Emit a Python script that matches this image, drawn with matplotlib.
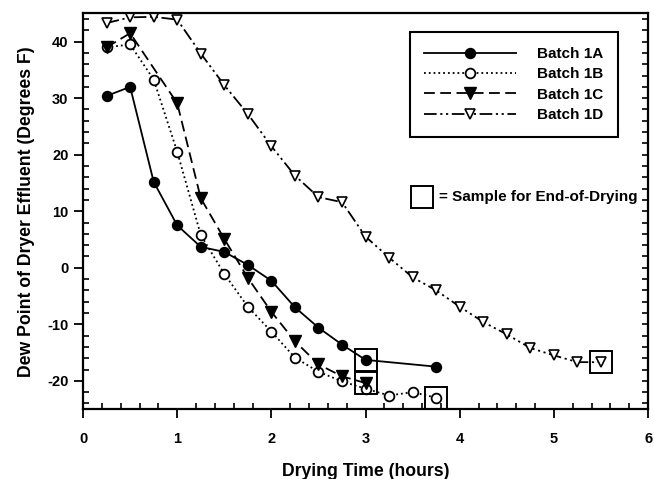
import matplotlib
matplotlib.use("Agg")
import matplotlib.pyplot as plt
from matplotlib.ticker import MultipleLocator, NullFormatter

plt.rcParams["font.family"] = ["Liberation Sans", "DejaVu Sans"]
plt.rcParams["font.weight"] = "bold"
plt.rcParams["axes.unicode_minus"] = False

# ---- data ---------------------------------------------------------------------
t_1a = [0.25, 0.5, 0.75, 1.0, 1.25, 1.5, 1.75, 2.0, 2.25, 2.5, 2.75, 3.0, 3.75]
dp_1a = [30.4, 32.0, 15.2, 7.5, 3.7, 2.8, 0.5, -2.3, -7.0, -10.6, -13.6, -16.3, -17.5]

t_1b = [0.25, 0.5, 0.75, 1.0, 1.25, 1.5, 1.75, 2.0, 2.25, 2.5, 2.75, 3.0, 3.25, 3.5, 3.75]
dp_1b = [39.0, 39.5, 33.3, 20.5, 5.8, -1.1, -6.9, -11.3, -15.9, -18.4, -20.1, -21.4, -22.6, -22.0, -23.0]

t_1c = [0.25, 0.5, 1.0, 1.25, 1.5, 1.75, 2.0, 2.25, 2.5, 2.75, 3.0]
dp_1c = [39.0, 41.5, 29.1, 12.3, 5.1, -1.8, -7.8, -13.0, -17.1, -19.2, -20.4]

t_1d = [0.25, 0.5, 0.75, 1.0, 1.25, 1.5, 1.75, 2.0, 2.25, 2.5, 2.75, 3.0, 3.25, 3.5,
        3.75, 4.0, 4.25, 4.5, 4.75, 5.0, 5.25, 5.5]
dp_1d = [43.3, 44.3, 44.4, 43.9, 37.9, 32.3, 27.2, 21.5, 16.3, 12.5, 11.6, 5.5, 1.8, -1.7,
         -4.0, -6.9, -9.6, -11.8, -14.2, -15.5, -16.7, -16.7]

# end-of-drying samples (boxed points)
t_end = [3.0, 3.0, 3.75, 5.5]
dp_end = [-16.3, -20.4, -23.0, -16.7]

fig = plt.figure(figsize=(6.54, 4.79), dpi=100)
ax = fig.add_axes([0.127, 0.146, 0.864, 0.826])

ax.plot(t_1a, dp_1a, "-", color="black", lw=1.3, marker="o", ms=7.2,
        mfc="black", mec="black", label="Batch 1A")
ax.plot(t_1b, dp_1b, ":", color="black", lw=1.3, marker="o", ms=7,
        mfc="white", mec="black", mew=1.3, label="Batch 1B")
ax.plot(t_1c, dp_1c, "--", color="black", lw=1.3, marker="v", ms=8,
        mfc="black", mec="black", dashes=(6, 3), label="Batch 1C")
ax.plot(t_1d, dp_1d, color="black", lw=1.3, marker="v", ms=7,
        mfc="white", mec="black", mew=1.2, dashes=(7, 2, 1.2, 2, 1.2, 2), label="Batch 1D")
ax.plot(t_end, dp_end, "s", ls="none", ms=16.5, mfc="none", mec="black", mew=1.4)

ax.set_xlim(0, 6)
ax.set_ylim(-25, 45)
ax.xaxis.set_major_locator(MultipleLocator(1))
ax.xaxis.set_minor_locator(MultipleLocator(0.2))
ax.set_yticks(range(-20, 41, 10))
ax.yaxis.set_minor_locator(MultipleLocator(2))
ax.tick_params(which="major", direction="out", length=6.5, width=1.3, labelsize=10.5)
ax.tick_params(axis="x", which="major", pad=10)
ax.tick_params(axis="y", which="major", pad=4)
ax.tick_params(which="minor", direction="in", length=4, width=1.2)
for s in ax.spines.values():
    s.set_linewidth(1.6)

# right-hand spine: short inward ticks every 2 degrees
rax = ax.twinx()
rax.set_ylim(ax.get_ylim())
rax.yaxis.set_major_locator(MultipleLocator(2))
rax.yaxis.set_major_formatter(NullFormatter())
rax.tick_params(axis="y", direction="in", length=4, width=1.2)
for s in rax.spines.values():
    s.set_visible(False)

ax.set_xlabel("Drying Time (hours)", fontsize=12.7, fontweight="bold", labelpad=12)
ax.set_ylabel("Dew Point of Dryer Effluent (Degrees F)", fontsize=12.7, fontweight="bold", labelpad=9)

leg = ax.legend(loc="upper right", bbox_to_anchor=(0.947, 0.952), fancybox=False,
                edgecolor="black", framealpha=1, fontsize=11, handlelength=6.0,
                handletextpad=1.4, borderpad=0.95, labelspacing=0.42, borderaxespad=0)
leg.get_frame().set_linewidth(1.5)

ax.plot([0.599], [0.537], "s", ms=16.5, mfc="none", mec="black", mew=1.4,
        transform=ax.transAxes, clip_on=False)
ax.text(0.63, 0.537, "= Sample for End-of-Drying", transform=ax.transAxes,
        fontsize=11, fontweight="bold", va="center", ha="left")

fig.savefig("out.png", dpi=100)
